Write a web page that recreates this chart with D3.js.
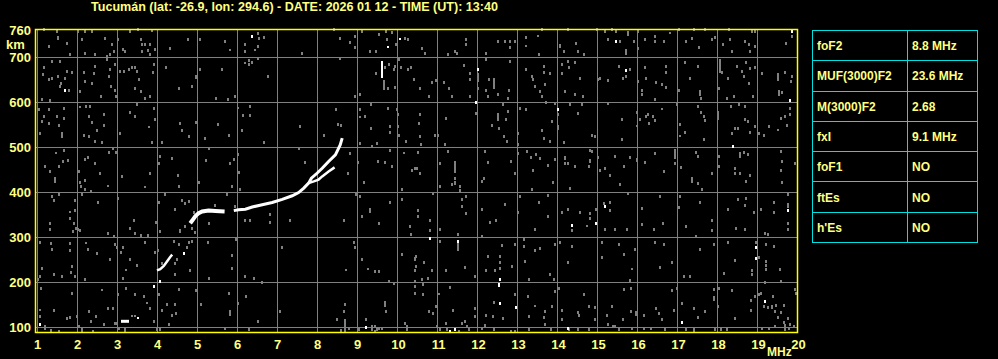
<!DOCTYPE html>
<html>
<head>
<meta charset="utf-8">
<script src="https://cdn.jsdelivr.net/npm/d3@7"></script>
<style>
  html, body { margin: 0; padding: 0; background: #000; }
  svg { display: block; }
  text { font-family: "Liberation Sans", Arial, sans-serif; font-weight: bold; fill: #ffff80; }
</style>
</head>
<body>
<div id="container"></div>
<script>
const width = 998;
const height = 359;

const title = 'Tucumán (lat: -26.9, lon: 294.6) - DATE: 2026 01 12 - TIME (UT): 13:40';

const freqTicks = d3.range(1, 21);
const heightTicks = [100, 200, 300, 400, 500, 600, 700, 760];

const params = ['foF2', 'MUF(3000)F2', 'M(3000)F2', 'fxI', 'foF1', 'ftEs', "h'Es"];
const paramValues = ['8.8 MHz', '23.6 MHz', '2.68', '9.1 MHz', 'NO', 'NO', 'NO'];

// echo trace (MHz, km)
const traceLow = [[4.0, 226], [4.08, 229], [4.17, 236], [4.25, 246], [4.33, 256], [4.38, 261]];
const traceEs = [[3.1, 113], [3.3, 113]];
const traceF = [[4.83, 331], [4.89, 338], [4.96, 347], [5.04, 353], [5.13, 357], [5.29, 359], [5.46, 358], [5.69, 357]];
const traceF2 = [[5.92, 359], [6.04, 361], [6.21, 362], [6.38, 367], [6.63, 372], [6.88, 377], [7.13, 384],
    [7.38, 392], [7.54, 399], [7.67, 409], [7.79, 420], [7.86, 431], [8.0, 442], [8.13, 453], [8.29, 468],
    [8.46, 483], [8.58, 505], [8.63, 520]];
const traceX = [[7.79, 420], [7.92, 424], [8.04, 428], [8.13, 435], [8.29, 446], [8.44, 455]];

// bright single returns [MHz, km, km2?]
const bright = [[6.38,746],[9.78,724,719],[10.08,742,737],[1.69,626],[9.63,692,655],[15.48,735],[19.88,757],
    [12.03,672],[15.73,670],[11.98,599],[14.03,586,580],[19.83,604],[18.4,501],[1.08,105],[3.52,122,117],
    [3.92,194,187],[9.23,103,97],[10.83,296],[11.53,290],[14.38,325],[14.98,333,327],[15.19,368],[19.78,362,355],
    [12.58,205],[18.98,276],[18.98,253],[12.58,153],[12.56,198,190],[12.98,144],[17.13,110],[19.19,157],
    [11.33,90],[11.46,94],[14.28,98],[4.08,201],[4.67,268,262]];

// grey noise [MHz, km, km2?]
const noise = [
    [1.17,762],[1.5,757],[1.53,746,738],[1.31,724],[1.75,731],[1.83,705],
    [2.03,757],[2.2,757],[2.38,757],[2.13,739],[2.2,709],[2.46,705],[2.71,742],[2.88,727],[2.92,713],[2.83,705],[2.75,701],
    [3.03,740],[3.14,716],[3.19,713],[3.33,757],[3.53,761],[3.61,739],[3.63,727],[3.71,727],[3.83,727],[3.63,713],[3.78,714],[3.88,760,755],[3.96,716],[3.83,705],
    [4.33,722,716],[4.78,740],[5.08,739],[5.69,735],[5.83,718,713],
    [6.19,727],[6.21,713],[6.53,753],[6.54,742],[6.67,744],[6.44,718,713],[6.53,724],[7.63,709],
    [8.42,762],[8.57,742],[8.83,737,731],[8.94,747],[8.96,722],
    [9.13,757],[9.33,713],[9.48,713],[9.54,750],[9.73,757],[9.75,739],[9.88,757,751],[9.98,727],[10.19,742],[10.27,740],
    [1.17,676],[1.14,661],[1.29,650],[1.38,653],[1.53,658],[1.71,653],[1.61,641],[1.58,635],[1.79,627],[1.38,690],[1.58,690],[1.75,668],[1.88,666],[1.13,607],[1.33,604],
    [2.08,624],[2.17,666],[2.21,646],[2.38,641],[2.42,664],[2.46,679],[2.61,613],[2.75,694],[2.79,657],[2.83,672],[2.96,683],[2.96,627],[2.98,613],[2.85,635],
    [3.08,668],[3.17,668],[3.31,672],[3.38,676],[3.46,678],[3.5,668],[3.54,650],[3.44,631],[3.61,624],[3.69,609],[3.83,613],[3.92,683],[3.89,666],
    [4.23,681,675],[4.54,631],[4.88,635],[4.98,661,653],
    [5.08,672],[5.63,672],[5.48,609],[5.78,610,604],[5.96,613],
    [6.19,690,685],[6.29,683],[6.29,693],[6.38,688],[6.53,696],[6.78,657],
    [8.58,696],[8.94,613],
    [9.08,616],[9.67,650,627],[9.71,676],[9.81,683],[9.92,672],[9.94,679],[9.96,633],[9.48,666,660],[9.78,631],
    [10.04,694],[10.11,676],[10.28,676,670],[10.36,676],[10.42,650],
    [1.04,584],[1.17,568],[1.29,583],[1.5,568],[1.67,587],[1.67,564],[1.54,547],[1.63,531],[1.63,524],[1.08,530],[1.29,553],[1.13,557],
    [2.08,592,587],[2.23,591],[2.33,590],[2.29,568],[2.38,555],[2.67,572],[2.67,547],[2.5,538],[2.17,525],[2.29,524],[2.46,512],[2.63,510],
    [3.08,530],[3.33,578],[3.44,568],[3.5,594],[3.79,548,543],[3.92,587],[3.88,510],[3.94,561],
    [4.13,510],[4.58,552],[4.63,538],[4.79,524],[4.98,559,553],[5.21,520],
    [5.53,551],[5.79,527],[6.03,590,585],
    [6.14,574,568],[6.33,590],[6.33,574,568],[6.13,538],[6.67,510],
    [7.58,546],[8.17,527],[8.48,583],[8.53,550],[8.61,548],
    [9.08,583],[9.08,570,565],[9.19,568],[9.36,594],[9.36,542],[9.5,509],[9.78,587],[9.83,546],[9.83,533],[9.08,509],[10.0,583],[10.02,576,570],[10.02,546],[10.04,527],[10.23,512],
    [1.21,457],[1.33,446],[1.48,489,484],[1.54,457],[1.67,493],[1.64,468],[1.78,474,468],[1.44,431],
    [2.06,446],[2.19,472],[2.28,476],[2.44,463],[2.58,442],[2.79,488],[2.89,496],[2.98,492,486],
    [3.13,435],[3.83,442],[4.04,464],[4.08,479],[4.38,475],[4.53,438],
    [5.29,498],[5.22,470],[5.83,463],[5.92,477,471],[6.03,483],[6.04,444],
    [7.54,498],[7.71,466],[8.78,444,437],[8.83,487],
    [9.03,466],[9.38,501],[9.52,472,466],[9.71,466],[9.83,493],[9.88,458],[10.17,489,484],[10.38,448],[10.46,453],
    [10.63,722,716],[10.69,709],[11.44,713],[11.5,709],[11.28,705],[11.73,740],[11.73,727],[12.23,709],[12.53,735],[12.71,735],[12.83,735],[12.83,722],[12.96,735],[13.23,744],[13.23,727,722],[13.53,749,744],[13.63,762],[13.54,705],[14.08,729,720],[14.17,713],[14.48,731],[14.53,713],[14.67,705],[14.28,762],[15.0,762],[15.19,757],[15.28,742,736],[15.38,762],[15.48,757],[15.58,735],[15.77,757,746],[15.73,718,705],[15.92,735],[16.03,757],[16.03,720],[16.19,739],[16.44,746],[16.44,735],[16.67,735],[16.83,755,750],[17.04,761],[17.23,735],[17.38,744,738],[17.42,761],[17.54,722],[17.69,762],[17.88,740],[17.96,744],[18.14,727],[18.29,761],[18.33,739],[18.38,713],[18.69,735],[18.79,727],[18.83,716,709],[18.88,757],[18.96,761,755],[18.95,724],[19.73,731],[19.88,746],
    [10.58,631],[10.79,613],[10.88,644],[10.98,648],[11.17,644],[11.29,631],[11.38,613],[11.67,681],[11.83,664],[11.83,650],[11.83,613],[12.03,664,644],[12.03,631],[12.23,694],[12.29,650],[12.43,653,629],[12.23,627],[12.28,613],[12.53,616],[12.79,627],[12.78,611,605],[12.83,690],[13.23,672],[13.38,657],[13.39,650],[13.44,635],[13.58,627,620],[13.71,639],[13.67,679],[13.67,666],[13.83,664],[13.63,613],[14.13,683],[14.13,666,660],[14.28,690],[14.29,676],[14.46,688],[14.19,624],[14.46,616],[14.58,653],[14.64,613],[15.03,650],[15.08,653],[15.28,652,646],[15.56,679],[15.64,655,649],[15.73,657],[15.83,672],[16.03,646],[16.13,627],[16.13,616],[16.19,676],[16.23,653],[16.44,607],[16.47,644],[16.63,639],[16.73,679],[16.73,666],[16.73,637,631],[17.04,627],[17.19,688],[17.33,655,649],[17.52,679],[17.58,627,614],[17.61,609],[18.04,631],[18.08,696,666],[18.13,666],[18.28,653],[18.25,609],[18.42,613],[18.5,679],[18.63,668],[18.67,658],[18.73,688],[18.79,642],[18.83,674],[18.89,613],[18.94,676],[19.13,664],[19.53,664,646],[19.54,627,614],[19.69,666],[19.88,657],[19.86,646],[19.63,625,618],
    [10.58,572],[10.54,553],[10.58,524],[10.6,507],[10.94,527],[11.03,527],[11.22,564],[11.19,507],[11.98,574],[12.38,547],[12.53,575,557],[12.54,542],[12.64,594],[12.67,524],[12.73,561],[12.78,579],[12.75,512],[13.03,531],[13.08,587],[13.23,583],[13.63,536],[13.67,520],[13.73,600],[13.83,512],[13.88,557],[13.94,598],[14.03,572],[14.03,549,538],[14.17,510],[14.33,594],[14.53,575],[14.63,594],[14.88,527],[14.94,524],[15.28,598],[15.63,561],[15.63,516],[16.0,580,574],[16.0,549,544],[16.08,561],[16.23,568],[16.28,572],[16.39,568],[16.29,553],[16.44,559],[16.63,586,581],[17.0,594],[17.08,550],[17.08,527,522],[17.21,533],[17.53,590],[17.61,576],[17.67,568],[17.69,559],[17.67,516],[18.03,581,561],[18.36,590],[18.54,594],[18.69,591],[18.38,531],[18.46,542],[18.53,542],[18.71,561],[18.78,557],[18.83,533],[18.96,546],[19.04,531],[19.17,527],[19.29,546],[19.53,540,535],[19.61,564],[19.69,568],[19.83,590,583],[19.83,572],[19.75,548],
    [10.53,488],[10.5,453],[10.58,442],[11.08,464],[11.28,491],[11.44,470,444],[11.44,431],[12.19,493,487],[12.28,470,464],[12.17,431],[12.86,468],[12.94,442],[13.03,487],[13.03,505],[13.25,491],[13.36,478],[13.39,448],[13.48,483],[13.58,475],[13.78,460],[13.96,472],[14.21,481,472],[14.19,464],[14.27,464],[14.44,458],[14.83,496,490],[14.83,474,466],[14.88,490],[14.81,458],[15.03,478],[15.08,449],[15.21,453],[15.33,438],[15.46,479],[15.67,457],[15.83,476],[16.0,476,468],[16.19,466],[16.46,487],[16.67,446],[16.94,496,474],[16.94,464],[17.11,455],[17.38,431],[17.48,488],[17.53,479],[17.88,442],[18.06,479],[18.06,458],[18.44,453],[18.58,490,477],[18.67,488],[18.77,483],[18.44,442],[18.58,442],[18.83,438],[19.61,491],[19.63,468],[19.61,449],[19.96,464],
    [1.46,424],[2.08,421],[2.19,425],[2.11,413],[2.78,416,411],[3.69,413,408],[4.54,413],[5.06,421],[5.88,413],[6.08,405],[9.17,421],[10.13,409,403],
    [1.38,390],[1.42,381],[1.56,394],[1.33,331],[1.33,316],[1.83,359,354],[1.83,342],[1.94,381],[1.94,359],[1.92,333,327],[1.98,320],[1.89,313],
    [2.03,316],[2.08,315],[2.13,394],[2.21,405],[2.36,401],[2.53,377],[2.78,311,305],[2.92,301],[3.03,387],
    [3.33,320],[3.42,337],[3.44,309],[3.61,303],[3.78,303],[3.98,333],[4.06,377],[4.08,313],
    [4.19,394],[4.44,361],[4.63,381],[4.69,375],[4.81,379],[4.58,315],[4.71,324],[4.88,320],[4.94,310],[4.92,355],
    [5.29,331],[5.46,370],[5.75,394],[5.94,368],
    [6.21,340,333],[6.33,337],[6.83,350],[6.83,333],[7.33,337],[8.67,337],
    [8.98,394],[9.08,390],[9.33,364,353],[9.13,346],[9.83,377],[9.54,331],[10.13,383],[10.33,324],[10.35,305],
    [1.08,288],[1.36,285],[1.38,272],[1.13,231],[1.08,213],[1.42,216],[1.63,213],[1.83,285],[1.83,270],[1.88,235],[1.86,221],[1.03,205],[1.96,213],
    [2.23,290,285],[2.28,272],[2.5,264],[2.21,207],[2.83,251],[2.96,283],[3.0,276],[3.11,266],[3.14,276],[3.23,229,224],[3.14,209],
    [3.33,250],[3.5,238],[3.71,292,286],[3.96,266],[4.03,270],
    [4.13,242],[4.5,250],[4.46,242],[4.42,290],[4.54,283],[4.75,276],[4.81,288],[4.88,290],[4.83,227],[4.46,216],[4.58,313],
    [5.28,288],[5.29,209],[5.88,263,257],[5.88,233,226],[5.98,294],
    [6.19,213],[6.42,209],[6.63,199],[7.13,276],
    [8.73,229,224],[8.92,288],[8.94,276],
    [9.13,251],[9.28,231,226],[9.44,224],[9.54,224],[9.81,201],[10.13,261],[10.46,257,248],[10.46,227],[9.92,198],
    [1.11,187],[1.08,140,135],[1.08,126,120],[1.19,101],[1.42,138],[1.75,122,116],[1.88,175],[1.83,122],[2.0,124],
    [2.06,101],[2.13,90],[2.29,135],[2.35,113],[2.48,124],[2.63,185,180],[2.67,105],[2.78,142],[2.89,142],[3.03,172],[2.96,109],[3.19,94],
    [3.38,126,122],[3.46,126,122],
    [3.23,187],[3.46,172],[3.67,168],[3.75,155,150],[3.83,142],[4.04,172],[4.13,138],[4.25,150],[4.38,125],[4.44,150],[4.48,131],[4.31,107],[3.92,113],[4.56,183],[4.98,181],[5.11,150],
    [5.79,175],[5.83,138,124],[6.03,153],[6.23,168],[6.53,113],
    [7.08,135],[8.71,150],[8.71,118,88],[8.67,135],[8.5,116],[9.23,116],[9.38,101],[9.5,94],[9.71,157,144],[9.73,135],[10.21,109],[10.25,101],[10.46,190],[10.44,201],[10.46,175],[9.44,101],
    [2.13,94],[3.19,93],[4.08,94],[3.0,109],[9.38,94],[9.54,96],[9.46,90],[10.25,94],[9.63,98],
    [1.2,96],[1.35,92],[1.55,90],[2.4,90],[3.05,96],[4.0,95],[5.7,98],[6.3,94],[8.6,92],[8.8,96],[9.05,94],
    [11.08,413],[11.38,416],[11.44,424,416],[11.58,413],[11.58,404],[12.13,424],[13.38,407],[13.89,421],[14.33,409],[15.58,416],[17.38,424],[17.53,420],[17.63,407],[18.73,424],[19.63,421],
    [10.53,359],[10.53,347],[10.83,337],[10.83,315],[10.89,398],[11.08,318],[11.08,290],[11.53,305],[11.53,279],[11.63,368],[11.63,386,380],[11.73,390],[11.73,355,349],[12.13,364,358],[12.13,305,299],[12.33,333],[12.48,337],[12.69,372],[13.03,359,353],[13.08,390],[13.44,318],[13.54,377],[13.78,396,390],[13.78,346],[14.13,355],[14.28,362],[14.38,318,311],[14.58,355],[14.75,327,322],[14.83,353],[14.83,344,338],[14.98,364,358],[15.17,374],[15.33,377],[15.33,359],[15.19,318],[15.44,318],[15.78,396],[15.75,316],[16.13,364],[16.13,327],[16.42,318],[16.58,390],[16.64,331],[17.04,370,364],[17.08,390],[17.23,324],[17.58,377],[17.48,301],[17.88,337],[17.88,318,311],[18.28,362],[18.48,322,316],[18.53,383],[18.69,374,368],[18.73,386],[18.69,318],[18.92,355],[19.11,362],[19.19,309],[19.28,305],[19.42,377],[19.42,355],[19.78,394],[19.78,377,366],[19.78,333,327],[19.78,316],
    [10.48,257],[10.48,235],[10.67,244],[10.88,227],[10.63,205],[10.77,209],[11.08,290],[11.23,227],[11.53,290,270],[11.71,233],[11.94,213],[12.23,227],[12.28,257],[12.46,227],[12.58,257],[12.58,244],[12.58,231],[12.63,281],[12.88,235],[12.94,283],[13.17,294],[13.17,279],[13.29,207],[13.58,275],[13.44,270],[13.19,246],[13.83,216],[13.94,283],[13.92,207],[14.08,288],[14.28,244],[14.38,279],[15.13,288],[15.13,255],[15.54,283],[15.67,261],[15.88,231,226],[15.94,273],[15.83,204],[16.46,288],[16.58,233],[16.67,283],[16.88,244],[17.17,216,209],[17.33,212],[17.58,273],[17.92,283],[18.17,220],[18.28,288],[18.44,248],[18.88,227],[18.88,216],[18.98,288],[19.06,255],[19.23,283],[19.23,246],[19.23,238],[19.23,229],[19.19,199],[19.42,279],[19.58,229],[19.61,201],
    [10.64,172],[10.64,194],[10.79,135],[10.89,131],[10.98,146],[11.04,177,172],[11.33,189],[11.39,138],[11.23,109],[11.63,109],[11.71,113],[11.75,101],[11.94,142],[11.94,124],[12.23,125],[12.39,123],[12.42,157,150],[12.64,120],[12.96,172],[13.28,168],[13.31,124],[13.44,149,144],[13.69,135],[13.67,122],[13.88,146],[13.94,179],[14.13,137],[14.13,116],[14.06,187],[14.53,133],[14.56,127],[14.67,172],[14.81,147],[14.94,144],[14.96,117],[15.25,125],[15.38,146],[15.64,116],[15.67,183],[15.86,189,183],[15.86,135],[15.98,135,124],[16.17,125],[16.48,142],[16.56,131],[16.63,117],[16.88,181],[16.92,137],[17.0,187],[17.13,152],[17.42,142],[17.53,122],[17.69,135],[17.92,183],[17.92,166],[17.92,162],[18.03,147],[18.04,187],[18.38,181],[18.44,122,116],[18.86,159],[18.86,137],[18.94,168],[19.04,172],[19.11,175],[19.17,147],[19.28,144],[19.39,168],[19.38,149,140],[19.48,148],[19.44,135],[19.53,122],[19.61,133],[19.67,148],[19.67,110],[19.69,103],[19.78,120],[19.83,107],[19.92,101],[19.94,183],[19.98,175],
    [11.0,101],[11.08,94],[11.25,94],[11.54,90],[11.79,94],[12.13,98],[12.21,103],[12.42,94],[12.86,90],[12.96,90],[13.29,94],[13.69,105],[13.86,94],[14.31,94],[14.53,94],[14.79,94],[15.28,105],[15.39,101],[15.46,101],[15.54,94],[15.88,96],[16.17,98],[16.36,96],[16.71,94],[17.23,94],[17.42,101,90],[17.96,94],[18.11,94],[18.25,94],[19.13,96],[19.29,98],[19.44,101],[19.71,94],[19.81,96]
];

const x = d3.scaleLinear().domain([0.95, 20.025]).range([35, 798]);
const y = d3.scaleLinear().domain([87, 761]).range([333, 29.7]);

const svg = d3.select('#container').append('svg')
    .attr('width', width)
    .attr('height', height)
    .attr('viewBox', `0 0 ${width} ${height}`);

svg.append('rect').attr('width', width).attr('height', height).attr('fill', '#000');

svg.append('text')
    .attr('x', 91)
    .attr('y', 11)
    .attr('font-size', 12.5)
    .attr('textLength', 407)
    .attr('lengthAdjust', 'spacingAndGlyphs')
    .text(title);

// grid
let grid = svg.append('g').attr('stroke', '#808080').attr('stroke-width', 1).attr('shape-rendering', 'crispEdges');
grid.selectAll('line.v')
    .data(freqTicks.slice(0, -1))
    .join('line')
    .attr('x1', d => Math.round(x(d)) + 0.5)
    .attr('x2', d => Math.round(x(d)) + 0.5)
    .attr('y1', y.range()[0])
    .attr('y2', y.range()[1]);
grid.selectAll('line.h')
    .data(heightTicks.filter(d => d < 760))
    .join('line')
    .attr('class', 'h')
    .attr('x1', x.range()[0])
    .attr('x2', x.range()[1])
    .attr('y1', d => Math.round(y(d)) + 0.5)
    .attr('y2', d => Math.round(y(d)) + 0.5);

// noise
function dotTop(d) { return d.length > 2 ? y(Math.max(d[1], d[2])) : y(d[1]) - 1.5; }
function dotH(d) { return d.length > 2 ? Math.max(2, Math.abs(y(d[2]) - y(d[1]))) : 3; }

svg.append('g')
    .attr('fill', '#808080')
    .attr('shape-rendering', 'crispEdges')
    .selectAll('rect')
    .data(noise)
    .join('rect')
    .attr('x', d => Math.round(x(d[0]) - 1))
    .attr('y', d => Math.round(dotTop(d)))
    .attr('width', 2)
    .attr('height', d => Math.round(dotH(d)));

svg.append('g')
    .attr('fill', '#ffffff')
    .attr('shape-rendering', 'crispEdges')
    .selectAll('rect')
    .data(bright)
    .join('rect')
    .attr('x', d => Math.round(x(d[0]) - 1))
    .attr('y', d => Math.round(dotTop(d)))
    .attr('width', 2)
    .attr('height', d => Math.round(dotH(d)));

// traces
const line = d3.line().x(d => x(d[0])).y(d => y(d[1]));
svg.append('g')
    .attr('fill', 'none')
    .attr('stroke', '#ffffff')
    .attr('stroke-linecap', 'butt')
    .selectAll('path')
    .data([
        { pts: traceLow, w: 2.5 },
        { pts: traceEs, w: 3 },
        { pts: traceF, w: 4 },
        { pts: traceF2, w: 3 },
        { pts: traceX, w: 2.5 }
    ])
    .join('path')
    .attr('stroke-width', d => d.w)
    .attr('d', d => line(d.pts));

// frame
svg.append('rect')
    .attr('x', 35.5)
    .attr('y', 29.5)
    .attr('width', 762)
    .attr('height', 303)
    .attr('fill', 'none')
    .attr('stroke', '#ffff00')
    .attr('stroke-width', 1.5);

// axis labels
svg.append('g')
    .attr('font-size', 13)
    .attr('text-anchor', 'middle')
    .selectAll('text')
    .data(freqTicks)
    .join('text')
    .attr('x', d => x(d) + (d >= 10 ? 1.5 : 0.5))
    .attr('y', 349)
    .text(d => d);

svg.append('g')
    .attr('font-size', 13)
    .attr('text-anchor', 'end')
    .selectAll('text')
    .data(heightTicks)
    .join('text')
    .attr('x', 31)
    .attr('y', d => y(d) + 5)
    .text(d => d);

svg.append('text').attr('x', 6).attr('y', 49).attr('font-size', 13).text('km');
svg.append('text').attr('x', 767).attr('y', 356).attr('font-size', 12).text('MHz');

// parameter table
const tx = d3.scaleLinear().domain([0, 1]).range([812, 977]);
const ty = d3.scaleBand().domain(d3.range(params.length)).range([30, 242]);
const colSplit = 907;

let table = svg.append('g');
table.append('rect')
    .attr('x', tx(0) + 0.5)
    .attr('y', ty.range()[0] + 0.5)
    .attr('width', tx(1) - tx(0))
    .attr('height', ty.range()[1] - ty.range()[0])
    .attr('fill', 'none')
    .attr('stroke', '#00e0e0');
table.append('line')
    .attr('x1', colSplit + 0.5).attr('x2', colSplit + 0.5)
    .attr('y1', ty.range()[0]).attr('y2', ty.range()[1])
    .attr('stroke', '#00e0e0');
table.selectAll('line.row')
    .data(d3.range(1, params.length))
    .join('line')
    .attr('class', 'row')
    .attr('x1', tx(0)).attr('x2', tx(1))
    .attr('y1', d => Math.round(ty(d)) + 0.5)
    .attr('y2', d => Math.round(ty(d)) + 0.5)
    .attr('stroke', '#00e0e0');
table.selectAll('text.p')
    .data(params)
    .join('text')
    .attr('class', 'p')
    .attr('x', 817)
    .attr('y', (d, i) => ty(i) + ty.bandwidth() / 2 + 5)
    .attr('font-size', 12)
    .text(d => d);
table.selectAll('text.v')
    .data(paramValues)
    .join('text')
    .attr('class', 'v')
    .attr('x', colSplit + 5)
    .attr('y', (d, i) => ty(i) + ty.bandwidth() / 2 + 5)
    .attr('font-size', 12)
    .text(d => d);
</script>
</body>
</html>
